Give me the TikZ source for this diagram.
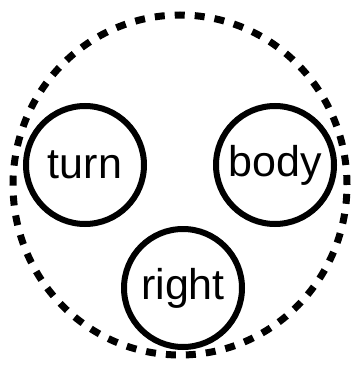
\documentclass[tikz,border=0pt]{standalone}
\usepackage{fontspec}
\setmainfont{Liberation Sans}
\usetikzlibrary{positioning}
\tikzset{
  word/.style={circle, draw, line width=6pt, minimum size=118pt, inner sep=0pt,
    font=\fontsize{43}{43}\selectfont},
  group/.style={line width=7pt, dash pattern=on 10pt off 10pt}
}

\begin{document}
\begin{tikzpicture}[x=1pt,y=-1pt]
  \useasboundingbox (0,0) rectangle (353,366);
  % outer dashed group
  \draw[group] (180,185) circle [x radius=167pt, y radius=170pt];
  % the three words
  \node[word] (turn) at (85,165) {turn};
  \node[word] (body) at (275,165) {body};
  \node[word] (right) at (183,288) {right};
\end{tikzpicture}
\end{document}
